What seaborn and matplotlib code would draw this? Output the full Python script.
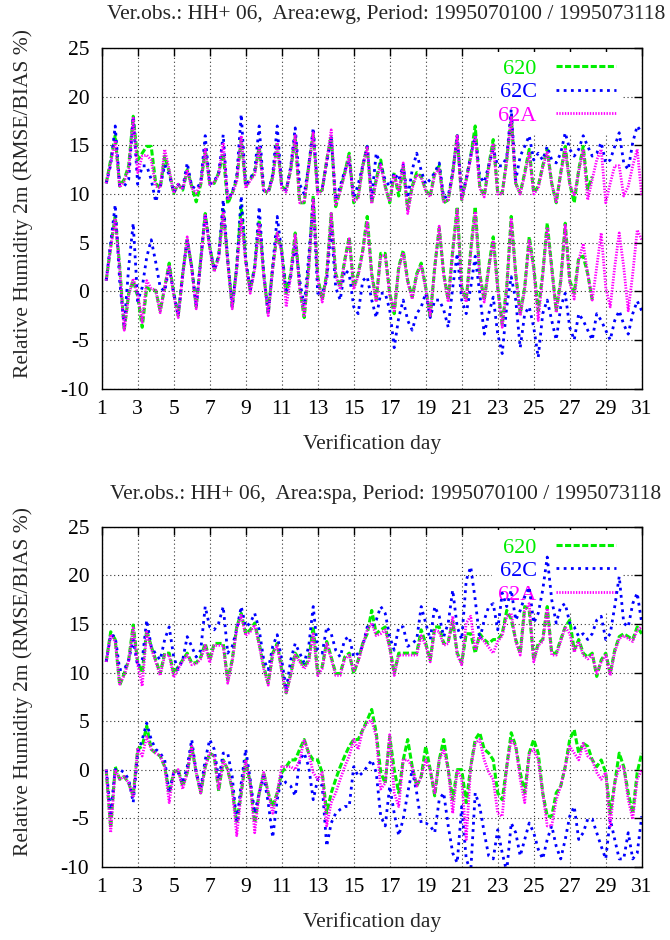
import matplotlib
matplotlib.use('Agg')
import numpy as np
import pandas as pd
import matplotlib.pyplot as plt
import seaborn as sns

# verification times, every 6 h from 1995070106 on (day 1.25 ... 31.0)
days = 1 + np.arange(1, 121) / 4.0
experiments = ['620', '62C', '62A']
xticks = list(range(1, 32, 2))
yticks = list(range(-10, 26, 5))

# ---- area ewg ----
ewg_rmse_620 = [
    11.1, 13.5, 16.0, 10.8, 11.5, 12.9, 18.0, 13.5,
    14.2, 14.9, 14.9, 11.1, 10.6, 13.9, 12.3, 10.1,
    11.0, 10.4, 12.5, 10.8, 9.2, 11.0, 14.6, 11.1,
    11.1, 12.2, 14.2, 9.0, 10.1, 11.5, 15.6, 10.8,
    11.5, 12.2, 14.9, 10.4, 10.1, 11.8, 15.3, 10.8,
    10.4, 12.5, 16.0, 9.1, 9.1, 12.9, 16.3, 10.1,
    10.4, 13.5, 16.0, 8.7, 10.4, 12.2, 14.2, 9.1,
    9.8, 12.9, 14.9, 9.1, 11.5, 13.5, 10.8, 9.1,
    12.2, 9.8, 12.9, 8.4, 10.8, 12.2, 11.8, 10.4,
    9.8, 12.2, 12.9, 9.1, 9.4, 12.2, 16.0, 9.4,
    11.5, 13.9, 17.0, 10.8, 9.8, 12.9, 15.6, 10.1,
    10.1, 13.5, 18.0, 11.1, 10.1, 12.2, 14.6, 10.1,
    10.8, 12.9, 14.6, 11.1, 9.1, 12.2, 14.9, 11.1,
    9.1, 12.5, 14.9, 10.5, 11.8]
ewg_rmse_62C = [
    11.1, 13.0, 17.0, 10.9, 10.8, 11.5, 18.0, 11.0,
    12.9, 12.9, 11.5, 9.2, 10.8, 13.0, 12.0, 10.2,
    11.0, 10.6, 13.2, 10.8, 10.5, 11.2, 16.0, 11.0,
    11.3, 12.2, 16.1, 9.4, 10.2, 11.8, 18.2, 10.8,
    11.6, 12.4, 17.0, 10.4, 10.2, 12.0, 17.0, 10.8,
    10.4, 12.8, 16.8, 11.0, 10.0, 12.9, 16.8, 10.4,
    10.6, 13.2, 15.8, 9.4, 10.8, 12.4, 13.5, 9.6,
    11.0, 12.9, 14.9, 9.6, 14.2, 13.0, 11.4, 10.8,
    12.2, 11.4, 13.0, 9.6, 12.5, 14.2, 12.4, 11.0,
    11.5, 12.2, 13.2, 9.6, 9.8, 12.2, 16.0, 9.8,
    11.5, 13.9, 16.0, 11.8, 11.2, 12.9, 14.6, 12.9,
    12.9, 13.8, 18.7, 11.4, 13.9, 14.9, 16.0, 13.5,
    14.2, 13.5, 14.9, 13.5, 13.2, 14.2, 16.3, 14.6,
    13.9, 14.6, 16.0, 14.9, 13.9, 14.2, 15.3, 13.2,
    13.5, 14.9, 16.3, 13.2, 12.5, 15.3, 17.0, 16.3]
ewg_rmse_62A = [
    11.1, 13.2, 15.5, 10.7, 11.3, 12.6, 17.8, 12.2,
    13.9, 14.0, 13.5, 10.8, 10.6, 14.6, 12.5, 10.1,
    11.0, 10.5, 12.5, 10.6, 10.1, 11.0, 14.6, 11.0,
    11.2, 12.0, 15.3, 9.4, 10.0, 11.3, 16.0, 10.6,
    11.4, 12.0, 14.9, 10.3, 10.2, 11.6, 15.3, 10.6,
    10.2, 12.6, 16.0, 9.1, 9.2, 12.7, 16.3, 10.0,
    10.4, 13.4, 16.6, 8.9, 10.3, 12.0, 13.9, 9.2,
    9.6, 12.8, 14.9, 9.0, 11.3, 13.0, 10.7, 9.2,
    12.0, 10.3, 13.2, 8.0, 10.6, 12.0, 11.7, 10.3,
    9.7, 12.0, 12.6, 9.2, 9.4, 12.0, 16.1, 9.3,
    11.4, 13.7, 16.0, 10.6, 9.7, 12.7, 15.2, 10.0,
    10.0, 13.4, 18.0, 11.0, 10.0, 12.0, 14.2, 10.0,
    10.6, 12.7, 14.4, 11.0, 9.2, 12.0, 14.6, 11.0,
    9.8, 12.3, 14.6, 9.4, 11.5, 13.5, 14.6, 9.1,
    11.1, 12.9, 12.9, 9.8, 10.8, 12.9, 14.6, 9.8]
ewg_bias_620 = [
    1.1, 4.6, 7.7, 2.5, -4.0, -0.2, 1.1, -0.5,
    -3.7, 0.4, 0.1, 0.1, -2.0, 0.4, 2.9, -0.2,
    -2.5, 1.8, 5.3, 2.5, -1.6, 3.2, 8.0, 4.6,
    2.2, 3.6, 8.4, 3.2, -1.6, 2.5, 8.8, 3.2,
    0.1, 2.5, 7.3, 1.8, -2.3, 2.5, 6.0, 4.2,
    -0.2, 1.8, 6.0, 0.4, -2.7, 2.5, 9.8, 1.5,
    -0.9, 1.8, 8.0, 1.8, 0.4, 3.2, 5.6, 0.4,
    1.8, 4.2, 7.7, 1.8, -0.9, 3.9, 3.9, -0.2,
    -2.3, 2.5, 4.2, 1.1, -0.6, 1.8, 2.9, 0.4,
    -2.7, 2.5, 6.5, 1.8, -0.9, 4.2, 8.7, 0.4,
    -0.9, 4.2, 8.7, 1.8, -0.9, 2.5, 5.6, 0.4,
    -3.4, 0.4, 7.7, 1.8, -2.3, 0.4, 5.6, 2.5,
    -2.0, 1.8, 7.0, 2.5, -2.0, 1.1, 7.0, 1.1,
    -0.2, 3.5, 3.6, 1.8, -0.9]
ewg_bias_62C = [
    1.1, 5.0, 8.9, 1.0, -3.5, 2.5, 7.0, -1.0,
    0.4, 3.5, 5.3, 3.0, 0.4, 0.0, 2.5, -0.2,
    -2.5, 1.8, 5.3, 2.5, -1.6, 3.2, 8.0, 4.6,
    2.2, 3.6, 9.4, 3.2, -1.6, 2.5, 9.8, 3.2,
    0.1, 2.5, 8.7, 1.8, -2.3, 2.5, 7.7, 4.0,
    -0.2, 1.5, 4.9, 1.1, -1.5, 3.5, 9.4, -0.2,
    -0.2, 1.1, 6.7, 0.4, -0.9, 2.2, 1.8, -1.6,
    -2.3, 1.1, 1.5, -0.9, -2.7, -0.2, -0.2, -1.9,
    -5.8, -2.7, -0.9, -3.0, -4.0, -2.3, -1.6, -0.2,
    -2.7, -0.9, -0.9, -1.9, -3.7, 0.4, 3.9, -0.9,
    -2.3, 0.4, 3.6, -0.2, -4.4, -2.3, -0.6, -4.4,
    -6.4, -1.6, 1.5, -0.9, -5.8, -2.3, -1.6, -3.7,
    -6.8, -2.3, -0.9, -3.0, -5.0, -1.6, -0.2, -3.7,
    -5.0, -2.3, -3.0, -4.0, -5.0, -2.3, -3.0, -4.0,
    -5.0, -3.0, -2.0, -3.4, -4.4, -2.3, -1.0, -2.0]
ewg_bias_62A = [
    1.1, 4.5, 7.5, 2.3, -4.0, -0.4, 1.3, -0.3,
    -3.2, 1.1, 0.3, 0.1, -2.2, 0.4, 2.7, -0.4,
    -2.7, 1.6, 5.6, 2.3, -1.8, 3.0, 7.8, 4.4,
    2.0, 3.4, 8.2, 3.0, -1.8, 2.3, 7.4, 3.0,
    -0.2, 2.3, 7.0, 1.6, -2.5, 2.3, 6.0, 4.0,
    -1.6, 1.6, 5.8, 0.2, -2.5, 2.3, 9.4, 1.3,
    -1.1, 1.6, 8.0, 1.6, 0.2, 3.0, 5.4, 0.2,
    1.6, 4.0, 7.2, 1.6, -1.1, 3.6, 3.7, -0.4,
    -2.0, 2.3, 4.0, 0.9, -0.8, 1.6, 2.7, 0.2,
    -2.5, 2.3, 6.7, 1.6, -1.1, 4.0, 8.4, 0.2,
    -1.1, 4.0, 8.2, 1.6, -1.1, 2.3, 5.2, 0.2,
    -3.7, 0.2, 7.4, 1.6, -2.5, 0.2, 5.2, 2.3,
    -3.0, 1.6, 6.6, 2.3, -2.2, 0.9, 6.8, 0.9,
    -0.8, 3.2, 4.9, 1.8, -0.9, 2.5, 6.0, 0.4,
    -1.6, 2.5, 6.0, 2.5, -2.0, 1.8, 6.3, 5.3]

# ---- area spa ----
spa_rmse_620 = [
    11.1, 14.2, 13.4, 8.7, 9.9, 11.3, 14.9, 11.0,
    10.0, 14.4, 12.7, 11.3, 9.9, 12.0, 12.0, 9.9,
    10.6, 11.3, 12.0, 11.0, 11.0, 11.6, 13.0, 11.3,
    13.0, 13.0, 13.0, 9.2, 11.3, 14.7, 16.1, 14.0,
    14.4, 15.1, 13.0, 10.6, 8.9, 12.0, 13.0, 10.3,
    7.9, 9.9, 12.0, 11.3, 10.6, 11.3, 14.7, 9.9,
    10.6, 13.2, 11.6, 9.9, 9.9, 11.6, 12.0, 9.9,
    11.3, 13.0, 14.0, 16.4, 14.0, 14.4, 14.7, 12.7,
    9.9, 12.0, 12.0, 12.0, 12.0, 12.0, 14.4, 13.0,
    11.3, 14.7, 14.7, 13.0, 13.2, 15.3, 12.0, 11.0,
    14.0, 14.0, 12.0, 14.0, 13.4, 13.0, 13.4, 13.4,
    14.0, 16.4, 15.5, 13.4, 12.0, 16.8, 16.4, 11.3,
    13.0, 13.4, 16.8, 12.0, 12.0, 13.4, 14.7, 15.4,
    12.3, 13.4, 12.0, 11.6, 12.0, 9.6, 11.3, 12.0,
    9.9, 12.3, 13.7, 14.0, 13.7, 13.4, 14.7, 14.0]
spa_rmse_62C = [
    11.1, 13.9, 13.7, 10.3, 10.3, 11.3, 13.4, 10.6,
    11.3, 15.4, 12.7, 11.9, 11.3, 13.4, 14.7, 11.6,
    10.3, 11.3, 13.7, 12.7, 11.6, 12.3, 16.8, 14.7,
    14.4, 15.1, 16.8, 12.0, 12.7, 14.4, 16.8, 14.7,
    15.1, 16.1, 14.4, 11.3, 10.3, 12.7, 13.9, 11.3,
    8.2, 11.3, 13.0, 12.0, 11.0, 12.7, 16.8, 12.3,
    12.0, 14.7, 14.0, 12.3, 11.6, 13.4, 13.7, 11.6,
    12.0, 12.7, 14.7, 14.7, 15.4, 16.8, 16.1, 13.7,
    12.3, 14.7, 14.7, 12.7, 13.0, 13.4, 16.8, 15.1,
    13.4, 16.8, 15.8, 13.7, 15.1, 18.5, 14.7, 13.4,
    19.5, 20.9, 17.5, 13.4, 15.4, 16.8, 17.1, 14.4,
    18.2, 16.8, 18.5, 15.4, 16.4, 17.8, 18.8, 15.1,
    16.1, 18.5, 21.9, 17.5, 15.1, 16.8, 17.1, 15.1,
    14.7, 13.7, 14.0, 13.4, 14.0, 15.4, 15.8, 13.4,
    14.0, 16.8, 19.9, 15.1, 14.7, 17.1, 18.2, 15.1]
spa_rmse_62A = [
    11.1, 13.9, 13.2, 8.8, 9.7, 11.2, 14.6, 10.8,
    8.6, 14.2, 12.5, 11.1, 9.7, 11.8, 11.8, 9.5,
    10.4, 11.2, 11.8, 10.8, 10.9, 11.4, 12.8, 11.0,
    12.8, 12.8, 12.8, 8.9, 11.1, 14.5, 15.9, 13.8,
    14.2, 14.9, 12.8, 10.4, 8.7, 11.8, 12.8, 10.1,
    7.8, 9.7, 11.8, 11.1, 10.4, 11.1, 14.0, 9.7,
    10.4, 13.0, 11.4, 9.7, 9.7, 11.4, 11.8, 10.2,
    11.1, 12.8, 14.4, 15.1, 13.8, 14.0, 14.4, 12.5,
    9.7, 11.8, 11.8, 11.8, 11.8, 11.8, 13.8, 12.8,
    11.1, 14.4, 14.2, 12.8, 13.0, 15.8, 11.8, 10.8,
    15.1, 15.8, 12.3, 13.7, 13.2, 12.6, 12.0, 13.2,
    13.8, 15.8, 16.1, 13.2, 11.8, 16.4, 17.1, 11.1,
    12.8, 13.2, 16.6, 11.8, 11.8, 13.2, 14.7, 14.0,
    12.1, 13.2, 11.8, 11.4, 11.8, 9.9, 11.1, 11.8,
    9.7, 12.1, 13.5, 13.8, 13.5, 13.2, 14.4, 14.7]
spa_bias_620 = [
    0.0, -6.0, 0.3, -1.0, -0.7, -1.4, -2.7, 2.1,
    2.4, 4.5, 2.1, 1.7, 1.4, 0.3, -2.4, -0.3,
    0.0, -1.7, -0.3, 2.4, -0.3, -2.4, 0.3, 1.7,
    1.4, -2.2, 1.0, 0.0, -2.0, -5.5, -2.4, 1.0,
    -1.4, -5.5, -2.4, -0.3, -2.4, -3.8, -2.4, -0.3,
    0.3, 1.0, 1.0, 2.1, 3.1, 1.7, 1.0, 1.0,
    -0.3, -4.5, -2.4, -1.0, 0.3, 1.4, 2.4, 3.1,
    3.1, 4.1, 5.1, 6.2, 3.8, -0.3, -1.4, 3.4,
    0.0, -2.4, 1.0, 3.1, 0.3, -1.7, -0.7, 2.4,
    0.0, -2.7, 1.0, 3.1, 0.0, -3.1, 0.0, 0.0,
    -3.4, 0.3, 3.1, 3.8, 2.1, 1.7, 1.0, -2.4,
    -3.1, 0.3, 3.8, 2.4, -0.3, -2.4, 1.7, 3.1,
    1.7, -2.4, -4.8, -4.8, -2.4, -1.7, 0.3, 3.1,
    4.1, 1.7, 2.7, 2.4, 1.0, 0.3, 1.0, -0.3,
    -4.5, -1.4, 1.7, 0.3, -2.4, -4.5, -0.3, 1.7]
spa_bias_62C = [
    0.0, -4.5, 0.0, 0.0, -0.3, -1.0, -3.4, 1.7,
    3.1, 4.8, 3.1, 2.1, 1.7, 1.0, -2.4, -0.3,
    -0.3, -1.4, 0.3, 3.1, -0.3, -2.0, 1.0, 3.1,
    2.1, -1.0, 1.7, 1.7, -0.7, -5.5, -1.4, 2.1,
    -1.0, -4.5, -2.4, -0.7, -3.4, -7.0, -3.1, -0.7,
    -1.4, -1.7, -2.7, 1.0, 1.7, 0.3, -3.1, -1.0,
    -1.7, -7.9, -5.5, -4.5, -4.1, -3.8, -3.8, 0.3,
    -0.7, -0.3, 0.3, 1.0, -0.3, -4.8, -5.8, -1.7,
    -4.5, -6.8, -5.1, -2.4, 0.0, -2.4, -5.5, -5.5,
    -5.8, -6.5, -3.1, -2.4, -5.8, -8.6, -9.6, -3.8,
    -9.2, -10.5, -2.4, -3.8, -6.5, -8.9, -9.2, -6.2,
    -8.6, -10.5, -5.5, -6.5, -8.9, -7.2, -5.5, -6.5,
    -8.2, -9.2, -7.2, -5.8, -7.9, -9.2, -7.2, -4.8,
    -3.8, -7.2, -6.5, -5.1, -5.1, -6.5, -7.9, -9.2,
    -5.1, -7.2, -9.2, -9.2, -6.5, -9.2, -8.6, -4.8]
spa_bias_62A = [
    0.0, -6.5, 0.0, -1.0, -0.7, -1.4, -2.9, 2.1,
    1.4, 3.4, 2.1, 1.7, 1.4, 0.3, -3.4, -0.3,
    0.0, -2.0, -0.3, 2.4, -0.3, -2.4, 0.3, 1.7,
    1.4, -2.0, 1.0, 0.0, -2.0, -6.8, -2.4, 1.0,
    -1.4, -6.5, -2.4, -0.3, -2.4, -4.5, -2.4, 0.3,
    0.3, 0.3, 0.0, 1.0, 3.1, 1.7, -0.3, -1.0,
    -0.3, -5.8, -3.4, -2.4, -1.0, 0.3, 1.4, 3.1,
    2.1, 4.1, 4.8, 5.1, 3.4, -2.0, -1.4, 3.6,
    -2.4, -3.8, 1.0, 1.0, 0.3, -1.7, -0.7, 1.0,
    0.0, -2.4, 1.0, 2.1, 0.0, -4.5, 0.0, -1.0,
    -7.2, 0.3, 2.7, 3.1, 1.0, -0.3, -1.0, -4.5,
    -4.8, 0.3, 3.1, 2.4, -1.0, -3.4, 1.7, 2.1,
    1.0, -2.4, -5.8, -5.8, -3.1, -1.7, 0.3, 2.4,
    1.7, 1.0, 2.7, 1.4, 1.0, -0.3, -1.0, -0.3,
    -5.8, -1.4, 0.3, 0.3, -3.1, -5.1, -1.0, 0.0]

panels = [
    ('ewg', {'620': (ewg_rmse_620, ewg_bias_620),
             '62C': (ewg_rmse_62C, ewg_bias_62C),
             '62A': (ewg_rmse_62A, ewg_bias_62A)}),
    ('spa', {'620': (spa_rmse_620, spa_bias_620),
             '62C': (spa_rmse_62C, spa_bias_62C),
             '62A': (spa_rmse_62A, spa_bias_62A)}),
]

line_kws = {
    '620': dict(color='#00ee00', linestyle=(0, (2.0, 0.8)), linewidth=2.2),
    '62C': dict(color='#0000ff', linestyle=(0, (1.0, 1.6)), linewidth=2.0),
    '62A': dict(color='#ff00ff', linestyle=(0, (0.5, 0.5)), linewidth=2.0),
}

sns.set_style('white')
plt.rcParams['font.family'] = ['Liberation Serif', 'DejaVu Serif']
plt.rcParams['axes.unicode_minus'] = False
fs = 15.5

fig = plt.figure(figsize=(6.7, 9.4), dpi=100)
ax_top = fig.add_axes([0.1518, 0.5866, 0.806, 0.3622])
ax_bot = fig.add_axes([0.1518, 0.0780, 0.806, 0.3614])
title_y = [1 - 14 / 940, 1 - 494 / 940]

for ax, (area, series), ty in zip([ax_top, ax_bot], panels, title_y):
    handles = []
    for exp in experiments:
        rmse, bias = series[exp]
        n = len(rmse)
        df = pd.DataFrame({'day': days[:n], 'rmse': rmse, 'bias': bias})
        sns.lineplot(data=df, x='day', y='rmse', ax=ax, estimator=None,
                     label=exp, **line_kws[exp])
        sns.lineplot(data=df, x='day', y='bias', ax=ax, estimator=None,
                     **line_kws[exp])
        handles.append(ax.lines[-2])

    ax.set_xlim(1, 31)
    ax.set_ylim(-10, 25)
    ax.set_xticks(xticks)
    ax.set_yticks(yticks)
    ax.grid(True, color='#333333', linestyle=(0, (1, 2.5)), linewidth=0.8)
    ax.tick_params(direction='in', length=6, width=1, top=True, right=True,
                   labelsize=fs, colors='black')
    ax.tick_params(axis='x', pad=8)
    ax.tick_params(axis='y', pad=9)
    for sp in ax.spines.values():
        sp.set_color('black')
        sp.set_linewidth(1)

    ax.set_xlabel('Verification day', fontsize=fs)
    ax.set_ylabel('Relative Humidity 2m (RMSE/BIAS %)', fontsize=fs)
    ax.xaxis.set_label_coords(0.5, -0.135)
    ax.yaxis.set_label_coords(-0.127, 0.545)

    # key blanks the grid but the curves still run over it, as gnuplot does
    leg = ax.legend(handles, experiments, loc='upper right',
                    bbox_to_anchor=(0.964, 0.99), borderaxespad=0,
                    markerfirst=False, frameon=True, fancybox=False,
                    edgecolor='none', facecolor='white', framealpha=1,
                    fontsize=16, handlelength=2.7, handletextpad=0.85,
                    labelspacing=0.14, borderpad=0.3, labelcolor='linecolor')
    leg.set_zorder(1)

    fig.text(386 / 670, ty,
             'Ver.obs.: HH+ 06,  Area:%s, Period: 1995070100 / 1995073118' % area,
             ha='center', va='center', fontsize=fs)

fig.savefig('out.png', dpi=100)
